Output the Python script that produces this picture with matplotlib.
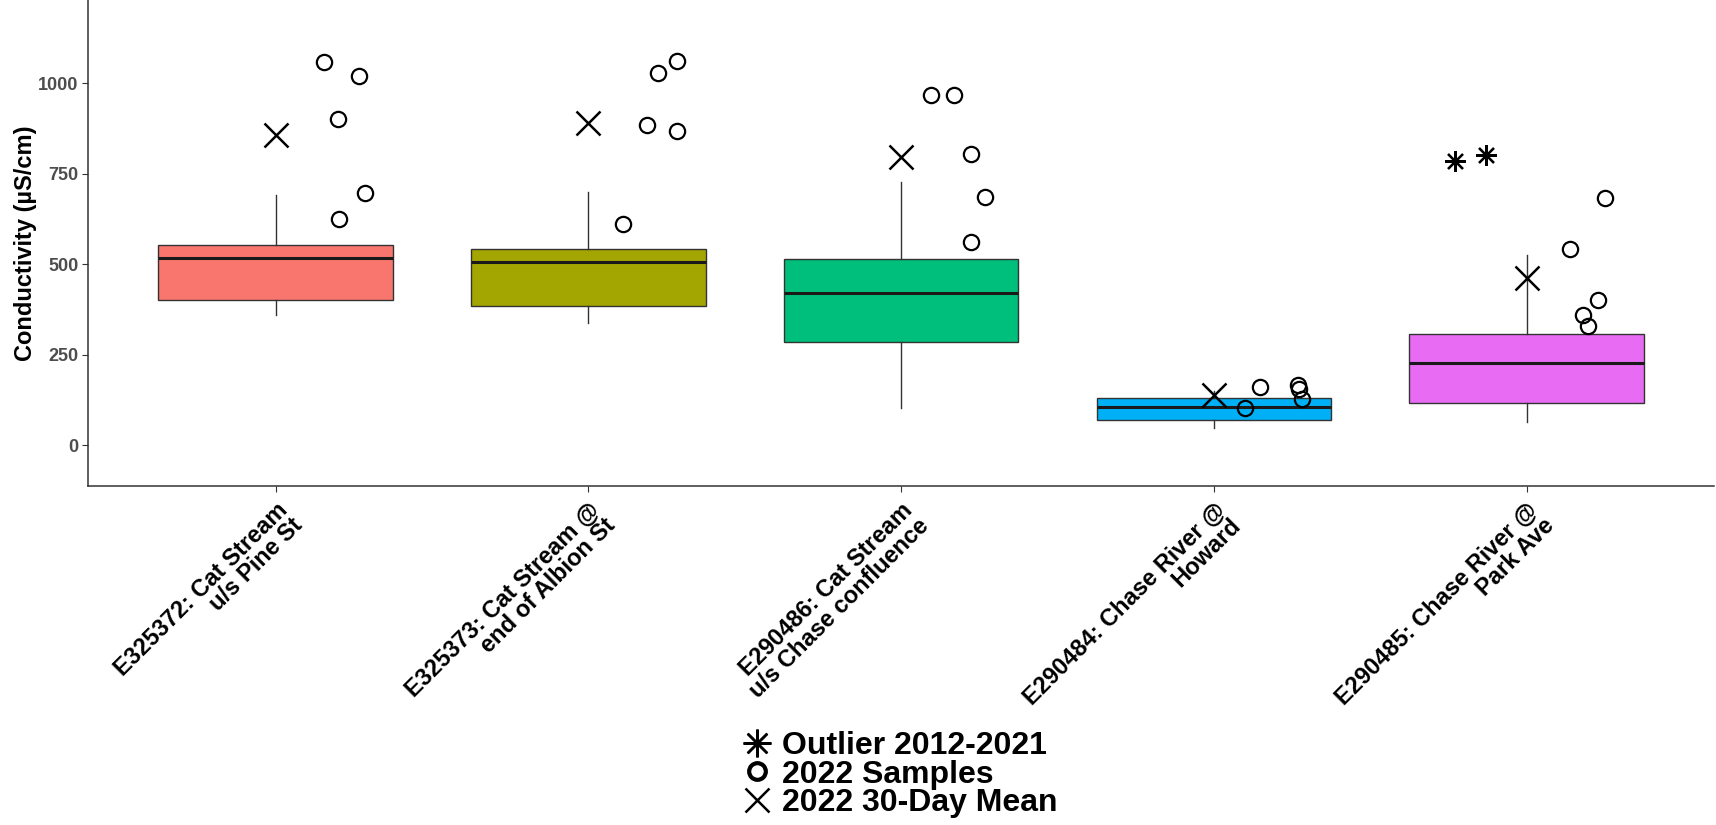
import matplotlib.pyplot as plt
from matplotlib.lines import Line2D

plt.rcParams['font.family'] = ['Liberation Sans', 'DejaVu Sans']

# Sites (x categories)
sites = ["E325372: Cat Stream\nu/s Pine St",
         "E325373: Cat Stream @\nend of Albion St",
         "E290486: Cat Stream\nu/s Chase confluence",
         "E290484: Chase River @\nHoward",
         "E290485: Chase River @\nPark Ave"]
box_colors = ["#F8766D", "#A3A500", "#00BF7D", "#00B0F6", "#E76BF3"]

# Historical (2012-2021) box stats
whis_low = [359, 336, 103, 48, 65]
q1 = [401, 385, 284, 69, 115]
median = [516, 505, 419, 106, 226]
q3 = [553, 541, 515, 131, 306]
whis_high = [691, 698, 728, 148, 525]

# Outliers 2012-2021 (site index, value, jitter)
out_site = [4, 4]
out_vals = [785, 802]
out_jit = [-0.23, -0.13]

# 2022 samples per site and their jitter
samples = [[1060, 1021, 900, 697, 625],
           [1062, 1028, 884, 867, 612],
           [968, 968, 805, 685, 560],
           [160, 102, 167, 155, 128],
           [682, 541, 402, 360, 329]]
sample_jit = [[0.155, 0.266, 0.200, 0.287, 0.203],
              [0.284, 0.224, 0.186, 0.284, 0.112],
              [0.097, 0.170, 0.222, 0.268, 0.224],
              [0.147, 0.100, 0.268, 0.272, 0.281],
              [0.250, 0.140, 0.228, 0.180, 0.195]]

# 2022 30-day mean
means_2022 = [858, 889, 797, 138, 461]

fig = plt.figure(figsize=(17.16, 8.25), dpi=100)
ax = fig.add_axes([0.0513, 0.411, 0.9477, 0.589])

stats = []
for i in range(len(sites)):
    stats.append(dict(whislo=whis_low[i], q1=q1[i], med=median[i],
                      q3=q3[i], whishi=whis_high[i], fliers=[]))
positions = list(range(1, len(sites) + 1))
bp = ax.bxp(stats, positions=positions, widths=0.75, patch_artist=True,
            showcaps=False,
            boxprops=dict(edgecolor='#333333', linewidth=1.0),
            medianprops=dict(color='#1a1a1a', linewidth=2.2),
            whiskerprops=dict(color='#333333', linewidth=1.0))
for patch, c in zip(bp['boxes'], box_colors):
    patch.set_facecolor(c)

# outliers
ax.plot([positions[s] + j for s, j in zip(out_site, out_jit)], out_vals,
        linestyle='none', marker=(8, 2, 0), markersize=15,
        markeredgewidth=1.6, color='black', zorder=4)

# 2022 samples
for i in range(len(sites)):
    xs = [positions[i] + j for j in sample_jit[i]]
    ax.plot(xs, samples[i], linestyle='none', marker='o', markersize=11,
            markerfacecolor='none', markeredgecolor='black',
            markeredgewidth=1.6, zorder=4)

# 2022 mean
ax.plot(positions, means_2022, linestyle='none', marker='x', markersize=17,
        markeredgewidth=1.8, color='black', zorder=5)

ax.set_xlim(0.4, 5.6)
ax.set_ylim(-113, 1230)
ax.set_yticks([0, 250, 500, 750, 1000])
ax.set_xticks(positions)
ax.set_xticklabels(sites, rotation=45, ha='right', va='top',
                   rotation_mode='anchor', fontsize=17, fontweight='bold',
                   multialignment='right', linespacing=0.95)
for lab in ax.get_yticklabels():
    lab.set_fontweight('bold')
ax.tick_params(axis='y', labelsize=13, labelcolor='#4D4D4D', color='#333333',
               length=4, pad=3)
ax.tick_params(axis='x', color='#333333', length=4, pad=5)
ax.set_ylabel('Conductivity (µS/cm)', fontsize=17, fontweight='bold',
              labelpad=1)

for side in ['top', 'right']:
    ax.spines[side].set_visible(False)
for side in ['left', 'bottom']:
    ax.spines[side].set_color('#333333')
    ax.spines[side].set_linewidth(1.1)

handles = [
    Line2D([], [], linestyle='none', marker=(8, 2, 0), markersize=20,
           markeredgewidth=1.8, color='black'),
    Line2D([], [], linestyle='none', marker='o', markersize=12,
           markerfacecolor='none', markeredgecolor='black',
           markeredgewidth=3),
    Line2D([], [], linestyle='none', marker='x', markersize=17,
           markeredgewidth=1.8, color='black'),
]
fig.legend(handles, ['Outlier 2012-2021', '2022 Samples', '2022 30-Day Mean'],
           loc='center', bbox_to_anchor=(0.524, 0.061), frameon=False,
           prop=dict(size=23, weight='bold'), labelspacing=-0.04,
           handletextpad=0.3, handlelength=1.0, borderpad=0)

fig.savefig('out.png', dpi=100)
